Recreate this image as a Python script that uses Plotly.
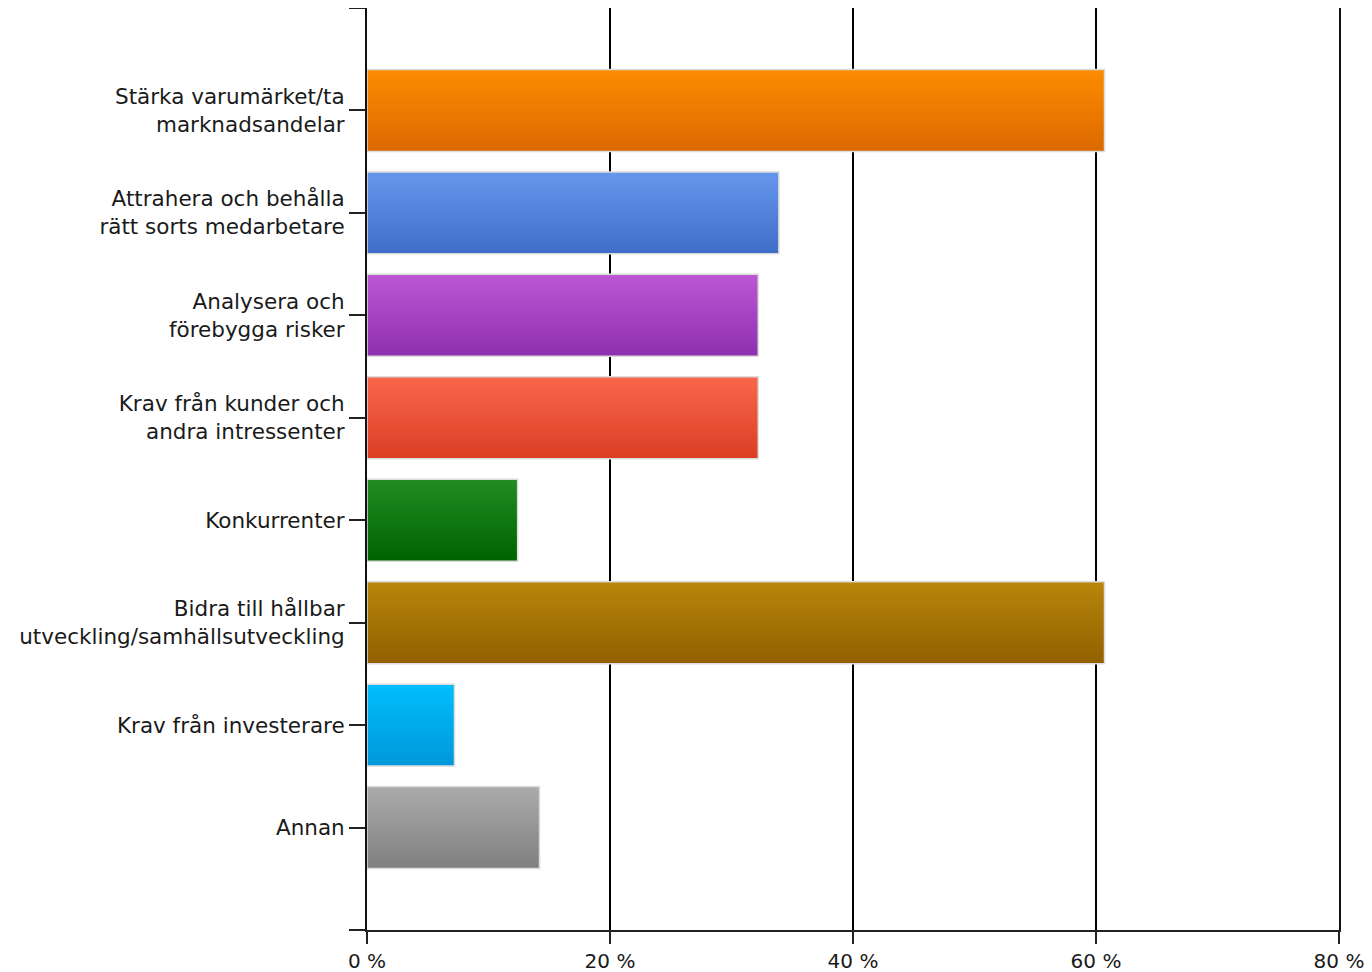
import plotly.graph_objects as go

categories = [
    "Stärka varumärket/ta<br>marknadsandelar",
    "Attrahera och behålla<br>rätt sorts medarbetare",
    "Analysera och<br>förebygga risker",
    "Krav från kunder och<br>andra intressenter",
    "Konkurrenter",
    "Bidra till hållbar<br>utveckling/samhällsutveckling",
    "Krav från investerare",
    "Annan",
]
values = [60.7, 33.9, 32.2, 32.2, 12.4, 60.7, 7.2, 14.2]
top_colors = ["#FC8C00", "#6596EC", "#BB56D4", "#F9664A", "#238B22", "#B8860B", "#01BEFC", "#AAAAAA"]
bottom_colors = ["#DC6900", "#3F6FC9", "#8E31AF", "#DA3F24", "#006400", "#926000", "#0098DC", "#808080"]
x_ticks = [0, 20, 40, 60, 80]

def hex2rgb(h):
    h = h.lstrip("#")
    return tuple(int(h[i:i + 2], 16) for i in (0, 2, 4))

def mix(a, b, t):
    ra, rb = hex2rgb(a), hex2rgb(b)
    return "rgb(%d,%d,%d)" % tuple(round(ra[i] + (rb[i] - ra[i]) * t) for i in range(3))

idx = list(range(len(categories)))
bar_w = 0.8
n_strips = 24
sw = bar_w / n_strips

fig = go.Figure()
for k in range(n_strips):
    t = k / (n_strips - 1)
    w = sw if k == n_strips - 1 else sw * 2
    fig.add_trace(go.Bar(
        x=values, y=idx, orientation="h",
        width=w, offset=-bar_w / 2 + k * sw,
        marker=dict(color=[mix(top_colors[i], bottom_colors[i], t) for i in idx], line=dict(width=0)),
        showlegend=False, hoverinfo="skip",
    ))
fig.add_trace(go.Bar(
    x=values, y=idx, orientation="h", width=bar_w,
    marker=dict(color="rgba(0,0,0,0)", line=dict(width=1.5, color="#DCDCDC")),
    showlegend=False,
))

fig.update_layout(
    width=1364, height=964,
    margin=dict(l=359, r=33, t=0, b=42, autoexpand=False),
    barmode="overlay",
    plot_bgcolor="white", paper_bgcolor="white",
    font=dict(family="DejaVu Sans, Arial, sans-serif", size=20, color="#1a1a1a"),
    xaxis=dict(
        range=[0, 80], tickvals=x_ticks, ticktext=["%d %%" % v for v in x_ticks],
        showgrid=True, gridcolor="black", gridwidth=2,
        showline=True, linecolor="#222222", linewidth=2,
        ticks="outside", ticklen=12, tickwidth=2, tickcolor="#222222",
        zeroline=False, fixedrange=True,
    ),
    yaxis=dict(
        range=[8, -1], tickvals=[-1] + idx + [8], ticktext=[""] + categories + [""],
        tickfont=dict(size=21.5),
        showgrid=False, zeroline=False,
        showline=True, mirror=True, linecolor="#111111", linewidth=2,
        ticks="outside", ticklen=16, tickwidth=2, tickcolor="#222222",
    ),
)

fig.write_html("out.html")
